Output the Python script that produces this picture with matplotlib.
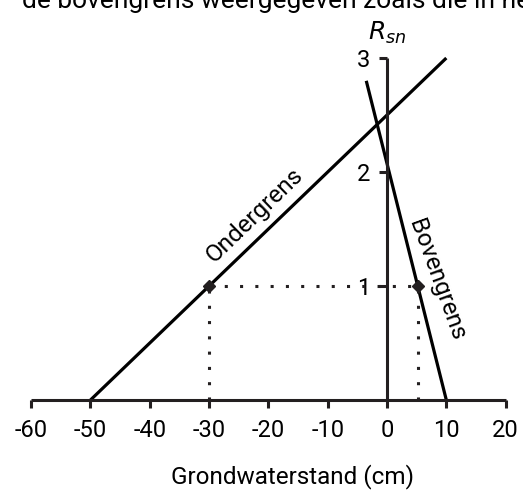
from matplotlib import pyplot as plt

plt.rcParams['font.family'] = ['Roboto', 'DejaVu Sans']

# data
x_ticks = [-60, -50, -40, -30, -20, -10, 0, 10, 20]
y_ticks = [1, 2, 3]
onder_x = [-50, 10]
onder_y = [0, 3]
boven_x = [-3.5, 10]
boven_y = [2.8, 0]
rsn_level = 1
onder_at = -30
boven_at = 5.2

ink = '#231f20'

fig = plt.figure(figsize=(5.23, 4.93), dpi=100)
ax = fig.add_axes([0, 0, 1, 1])
ax.set_xlim(-65.26, 22.93)
ax.set_ylim(-0.816, 3.509)

for s in ['top', 'right']:
    ax.spines[s].set_visible(False)
ax.spines['left'].set_position(('data', 0))
ax.spines['bottom'].set_position(('data', 0))
ax.spines['left'].set_bounds(0, 3)
ax.spines['bottom'].set_bounds(-60, 20)
for s in ['left', 'bottom']:
    ax.spines[s].set_linewidth(2.2)
    ax.spines[s].set_color(ink)
    ax.spines[s].set_capstyle('butt')

ax.set_xticks(x_ticks)
ax.set_xticklabels([str(v) for v in x_ticks])
ax.set_yticks(y_ticks)
ax.tick_params(axis='both', direction='out', length=6, width=2.2,
               color=ink, labelsize=17, labelcolor='black')
ax.tick_params(axis='x', pad=8)
ax.tick_params(axis='y', pad=6)

ax.plot(onder_x, onder_y, color='black', lw=2.3, solid_capstyle='butt')
ax.plot(boven_x, boven_y, color='black', lw=2.3, solid_capstyle='butt')

dots = dict(color=ink, lw=2.2, linestyle=(0, (1, 4)), dash_capstyle='butt')
ax.plot([onder_at, boven_at], [rsn_level, rsn_level], **dots)
ax.plot([onder_at, onder_at], [0, rsn_level], **dots)
ax.plot([boven_at, boven_at], [0, rsn_level], **dots)
ax.plot([onder_at, boven_at], [rsn_level, rsn_level], 'D', color=ink,
        markersize=6, linestyle='none')

ax.text(-22.4, 1.62, 'Ondergrens', rotation=44, fontsize=17.5,
        ha='center', va='center', rotation_mode='anchor')
ax.text(8.3, 1.05, 'Bovengrens', rotation=-70, fontsize=17.5,
        ha='center', va='center', rotation_mode='anchor')
ax.text(0, 3.22, r'$R_{sn}$', fontsize=18, ha='center', va='center')
ax.text(-16, -0.675, 'Grondwaterstand (cm)', fontsize=17.5,
        ha='center', va='center')
ax.text(-61.5, 3.44, 'de bovengrens weergegeven zoals die in het is',
        fontsize=19, ha='left', va='baseline')

fig.savefig('out.png', dpi=100)
